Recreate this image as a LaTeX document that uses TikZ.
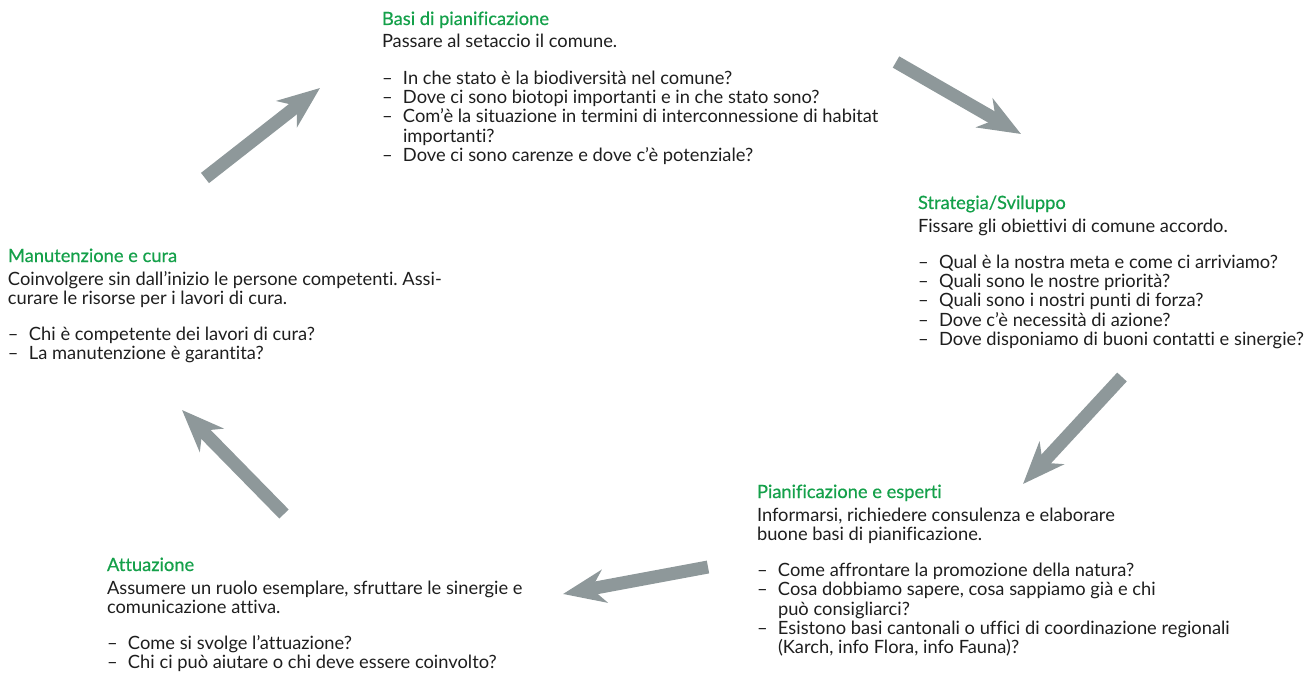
\documentclass[tikz,border=0pt]{standalone}
\usepackage{fontspec}
\setmainfont{Lato}[Ligatures=NoCommon]
\newfontfamily\titlefont{Lato}[FakeBold=0.5,Ligatures=NoCommon]
\usetikzlibrary{arrows.meta}
\definecolor{titlegreen}{HTML}{14A04A}
\definecolor{bodytext}{HTML}{1E1E1E}
\definecolor{arrowgray}{HTML}{8E989A}
\frenchspacing
\newcommand{\btitle}[1]{\leavevmode{\titlefont\color{titlegreen}#1}\par\vspace{3.8pt}}
\newcommand{\bgap}{\par\vspace{17.3pt}}
\newcommand{\itm}[1]{\par\hangindent=21pt\hangafter=1\noindent\makebox[21pt][l]{–}#1}
\tikzset{
  block/.style={anchor=base west, inner sep=0pt, outer sep=0pt, text=bodytext,
    font=\fontsize{18.3}{19.2}\selectfont},
  cyclearrow/.style={draw=arrowgray, line width=13pt,
    -{Stealth[length=42pt,width=33pt,inset=13pt]}}
}
\begin{document}
\begin{tikzpicture}[x=1pt,y=-1pt]
\useasboundingbox (0,0) rectangle (1312,674);

\node[block] (basi) at (382,25) {\parbox[t]{600pt}{\raggedright\frenchspacing
\btitle{Basi di pianificazione}
Passare al setaccio il comune.\bgap
\itm{In che stato è la biodiversità nel comune?}
\itm{Dove ci sono biotopi importanti e in che stato sono?}
\itm{Com’è la situazione in termini di interconnessione di habitat\newline importanti?}
\itm{Dove ci sono carenze e dove c’è potenziale?}}};

\node[block] (strategia) at (918,209) {\parbox[t]{500pt}{\raggedright\frenchspacing
\btitle{Strategia/Sviluppo}
Fissare gli obiettivi di comune accordo.\bgap
\itm{Qual è la nostra meta e come ci arriviamo?}
\itm{Quali sono le nostre priorità?}
\itm{Quali sono i nostri punti di forza?}
\itm{Dove c’è necessità di azione?}
\itm{Dove disponiamo di buoni contatti e sinergie?}}};

\node[block] (manutenzione) at (8,262) {\parbox[t]{600pt}{\raggedright\frenchspacing
\btitle{Manutenzione e cura}
Coinvolgere sin dall’inizio le persone competenti. Assi-\\curare le risorse per i lavori di cura.\bgap
\itm{Chi è competente dei lavori di cura?}
\itm{La manutenzione è garantita?}}};

\node[block] (esperti) at (757,498) {\parbox[t]{600pt}{\raggedright\frenchspacing
\btitle{Pianificazione e esperti}
Informarsi, richiedere consulenza e elaborare\\buone basi di pianificazione.\bgap
\itm{Come affrontare la promozione della natura?}
\itm{Cosa dobbiamo sapere, cosa sappiamo già e chi\newline può consigliarci?}
\itm{Esistono basi cantonali o uffici di coordinazione regionali\newline (Karch, info Flora, info Fauna)?}}};

\node[block] (attuazione) at (107,571) {\parbox[t]{600pt}{\raggedright\frenchspacing
\btitle{Attuazione}
Assumere un ruolo esemplare, sfruttare le sinergie e\\comunicazione attiva.\bgap
\itm{Come si svolge l’attuazione?}
\itm{Chi ci può aiutare o chi deve essere coinvolto?}}};

\coordinate (a1s) at (205,178); \coordinate (a1e) at (320,88);
\coordinate (a2s) at (896,62);  \coordinate (a2e) at (1021,134);
\coordinate (a3s) at (1122,377); \coordinate (a3e) at (1023,484);
\coordinate (a4s) at (708,567); \coordinate (a4e) at (563,594);
\coordinate (a5s) at (284,514); \coordinate (a5e) at (182,410);

\draw[cyclearrow] (a1s) -- (a1e);
\draw[cyclearrow] (a2s) -- (a2e);
\draw[cyclearrow] (a3s) -- (a3e);
\draw[cyclearrow] (a4s) -- (a4e);
\draw[cyclearrow] (a5s) -- (a5e);
\end{tikzpicture}
\end{document}
